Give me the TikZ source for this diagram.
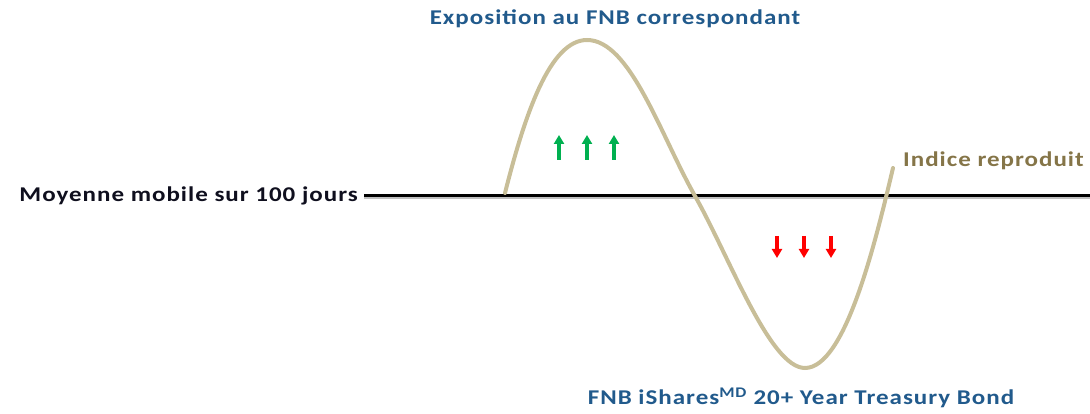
\documentclass[tikz,border=0pt]{standalone}
\usepackage{graphicx}
\usepackage{fontspec}
\setmainfont{Carlito}
\newfontfamily\lblfont[LetterSpace=4]{Carlito}
\usetikzlibrary{arrows.meta,positioning}

% wide rendering of the screen font
\newcommand{\widetext}[1]{\scalebox{1.19}[1]{#1}}

\begin{document}
\begin{tikzpicture}[x=1pt,y=1pt]

	% ============================================================
	% COLORS
	% ============================================================
	\definecolor{titleBlue}{HTML}{215A8C}
	\definecolor{indexText}{HTML}{857548}
	\definecolor{curveTan}{HTML}{C8BE98}
	\definecolor{upGreen}{HTML}{00B050}
	\definecolor{downRed}{HTML}{FF0000}
	\definecolor{axisText}{HTML}{0F0F1E}

	% ============================================================
	% STYLES
	% ============================================================
	\tikzset{
		lbl/.style={font=\lblfont\bfseries\fontsize{21}{24}\selectfont,inner sep=0pt},
		titleLbl/.style={lbl,text=titleBlue},
		indexLbl/.style={lbl,text=indexText},
		axisLbl/.style={lbl,text=axisText},
		axis/.style={line width=3pt,draw=black},
		axisShadow/.style={line width=1.5pt,draw=black!25},
		curve/.style={line width=4pt,draw=curveTan,line cap=round},
		upArr/.style={-{Triangle[width=10pt,length=9pt]},line width=3.5pt,draw=upGreen},
		downArr/.style={-{Triangle[width=10pt,length=9pt]},line width=3.5pt,draw=downRed}
	}

	% ============================================================
	% CANVAS - 1090 x 414
	% ============================================================
	\useasboundingbox (0,0) rectangle (1090,414);

	% ============================================================
	% MOVING AVERAGE LINE
	% ============================================================
	\node[axisLbl, anchor=east] (average) at (358,218) {\widetext{Moyenne mobile sur 100 jours}};
	\coordinate (axisEnd) at (1090,218);
	\draw[axisShadow] ([xshift=6pt,yshift=-2pt]average.east) -- ([yshift=-2pt]axisEnd);
	\draw[axis] ([xshift=6pt]average.east) -- (axisEnd);

	% ============================================================
	% TRACKED INDEX CURVE
	% ============================================================
	\coordinate (start)  at (505,221);
	\coordinate (peak)   at (587,374);
	\coordinate (cross)  at (695,218);
	\coordinate (trough) at (805,46);
	\coordinate (finish) at (893,246);

	\draw[curve] (start) .. controls (525,300) and (550,374) .. (peak)
		.. controls (630,374) and (660,280) .. (cross)
		.. controls (730,156) and (770,46) .. (trough)
		.. controls (845,46) and (875,170) .. (finish);

	% ============================================================
	% LABELS
	% ============================================================
	\node[titleLbl, anchor=base] (exposure) at (615,389) {\widetext{Exposition au FNB correspondant}};
	\node[indexLbl, anchor=base west] (index) at (903,247) {\widetext{Indice reproduit}};
	\node[titleLbl, anchor=base] (bond) at (801,9) {\widetext{FNB iShares\textsuperscript{MD} 20+ Year Treasury Bond}};

	% ============================================================
	% ARROWS - UP (GREEN) / DOWN (RED)
	% ============================================================
	\foreach \i/\x in {1/559,2/587,3/614} {
		\coordinate (up\i a) at (\x,254);
		\coordinate (up\i b) at (\x,279);
		\draw[upArr] (up\i a) -- (up\i b);
	}
	\foreach \i/\x in {1/777,2/804,3/831} {
		\coordinate (down\i a) at (\x,178);
		\coordinate (down\i b) at (\x,156);
		\draw[downArr] (down\i a) -- (down\i b);
	}

\end{tikzpicture}
\end{document}
